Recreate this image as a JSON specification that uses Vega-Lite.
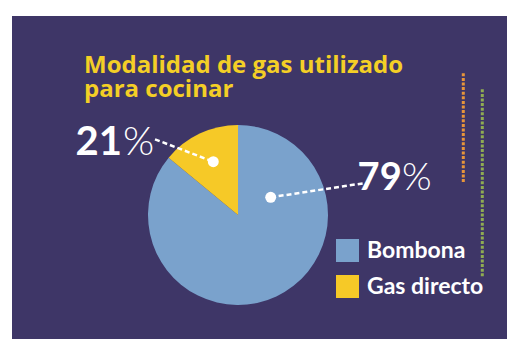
{
  "$schema": "https://vega.github.io/schema/vega-lite/v6.json",
  "autosize": {"type": "fit", "contains": "padding"},
  "width": 525,
  "height": 344,
  "padding": {"left": 12, "top": 16, "right": 18, "bottom": 5},
  "background": "white",
  "config": {
    "view": {"fill": "#3e3667", "stroke": null},
    "font": "Lato",
    "legend": {
      "orient": "none",
      "legendX": 324,
      "legendY": 223,
      "symbolType": "square",
      "symbolSize": 529,
      "symbolStrokeWidth": 0,
      "symbolOpacity": 1,
      "labelFontSize": 23,
      "labelFont": "Lato",
      "labelFontWeight": "bold",
      "labelColor": "white",
      "rowPadding": 12,
      "labelOffset": 8,
      "padding": 0
    }
  },
  "datasets": {
    "pie": [
      {"modalidad": "Bombona", "porcentaje": 79, "angulo_dibujado": 86},
      {"modalidad": "Gas directo", "porcentaje": 21, "angulo_dibujado": 14}
    ],
    "titulo": [
      {"texto": ["Modalidad de gas utilizado", "para cocinar"], "px": 72, "py": 57.3}
    ],
    "etiquetas": [
      {"numero": "21", "nx": 110, "sx": 111, "py": 139, "tam": 32},
      {"numero": "79", "nx": 389.7, "sx": 390, "py": 174, "tam": 30}
    ],
    "guias": [
      {"x1": 143, "y1": 123.3, "x2": 201.3, "y2": 145.7},
      {"x1": 258.7, "y1": 181.3, "x2": 351.3, "y2": 167.3}
    ],
    "puntos": [
      {"px": 201.3, "py": 145.7},
      {"px": 258.7, "py": 181.3}
    ],
    "decor": [
      {"serie": "naranja", "px": 451.3, "y1": 57.3, "y2": 167.3},
      {"serie": "verde", "px": 470.3, "y1": 73.3, "y2": 260.7}
    ]
  },
  "layer": [
    {
      "data": {"name": "pie"},
      "mark": {"type": "arc", "outerRadius": 90},
      "encoding": {
        "theta": {"field": "angulo_dibujado", "type": "quantitative", "stack": true},
        "color": {
          "field": "modalidad",
          "type": "nominal",
          "scale": {"domain": ["Bombona", "Gas directo"], "range": ["#7aa2cc", "#f6c927"]},
          "legend": {"title": null}
        },
        "order": {"field": "modalidad", "sort": "ascending"},
        "x": {"datum": 226, "type": "quantitative", "scale": {"domain": [0, 495], "nice": false, "zero": false}, "axis": null},
        "y": {"datum": 199, "type": "quantitative", "scale": {"domain": [0, 323], "nice": false, "zero": false, "reverse": true}, "axis": null}
      }
    },
    {
      "data": {"name": "decor"},
      "mark": {"type": "rule", "strokeWidth": 3, "strokeDash": [3, 1.6]},
      "encoding": {
        "x": {"field": "px", "type": "quantitative", "scale": {"domain": [0, 495], "nice": false, "zero": false}, "axis": null},
        "y": {"field": "y1", "type": "quantitative", "scale": {"domain": [0, 323], "nice": false, "zero": false, "reverse": true}, "axis": null},
        "y2": {"field": "y2"},
        "stroke": {"field": "serie", "type": "nominal", "scale": {"domain": ["naranja", "verde"], "range": ["#e8953a", "#8fac52"]}, "legend": null}
      }
    },
    {
      "data": {"name": "guias"},
      "mark": {"type": "rule", "color": "white", "strokeWidth": 2.5, "strokeDash": [5, 3]},
      "encoding": {
        "x": {"field": "x1", "type": "quantitative", "scale": {"domain": [0, 495], "nice": false, "zero": false}, "axis": null},
        "y": {"field": "y1", "type": "quantitative", "scale": {"domain": [0, 323], "nice": false, "zero": false, "reverse": true}, "axis": null},
        "x2": {"field": "x2"},
        "y2": {"field": "y2"}
      }
    },
    {
      "data": {"name": "puntos"},
      "mark": {"type": "circle", "color": "white", "opacity": 1, "size": 120},
      "encoding": {
        "x": {"field": "px", "type": "quantitative", "scale": {"domain": [0, 495], "nice": false, "zero": false}, "axis": null},
        "y": {"field": "py", "type": "quantitative", "scale": {"domain": [0, 323], "nice": false, "zero": false, "reverse": true}, "axis": null}
      }
    },
    {
      "data": {"name": "titulo"},
      "mark": {"type": "text", "align": "left", "baseline": "alphabetic", "fontSize": 24, "lineHeight": 24, "fontWeight": "bold", "color": "#f4cf26", "font": "Open Sans"},
      "encoding": {
        "x": {"field": "px", "type": "quantitative", "scale": {"domain": [0, 495], "nice": false, "zero": false}, "axis": null},
        "y": {"field": "py", "type": "quantitative", "scale": {"domain": [0, 323], "nice": false, "zero": false, "reverse": true}, "axis": null},
        "text": {"field": "texto"}
      }
    },
    {
      "data": {"name": "etiquetas"},
      "mark": {"type": "text", "align": "right", "baseline": "alphabetic", "fontWeight": "bold", "color": "white", "font": "Lato"},
      "encoding": {
        "x": {"field": "nx", "type": "quantitative", "scale": {"domain": [0, 495], "nice": false, "zero": false}, "axis": null},
        "y": {"field": "py", "type": "quantitative", "scale": {"domain": [0, 323], "nice": false, "zero": false, "reverse": true}, "axis": null},
        "size": {"field": "tam", "type": "quantitative", "scale": {"type": "identity"}, "legend": null},
        "text": {"field": "numero"}
      }
    },
    {
      "data": {"name": "etiquetas"},
      "mark": {"type": "text", "align": "left", "baseline": "alphabetic", "fontWeight": 300, "color": "white", "font": "Lato", "text": "%"},
      "encoding": {
        "x": {"field": "sx", "type": "quantitative", "scale": {"domain": [0, 495], "nice": false, "zero": false}, "axis": null},
        "y": {"field": "py", "type": "quantitative", "scale": {"domain": [0, 323], "nice": false, "zero": false, "reverse": true}, "axis": null},
        "size": {"field": "tam", "type": "quantitative", "scale": {"type": "identity"}, "legend": null}
      }
    }
  ]
}
